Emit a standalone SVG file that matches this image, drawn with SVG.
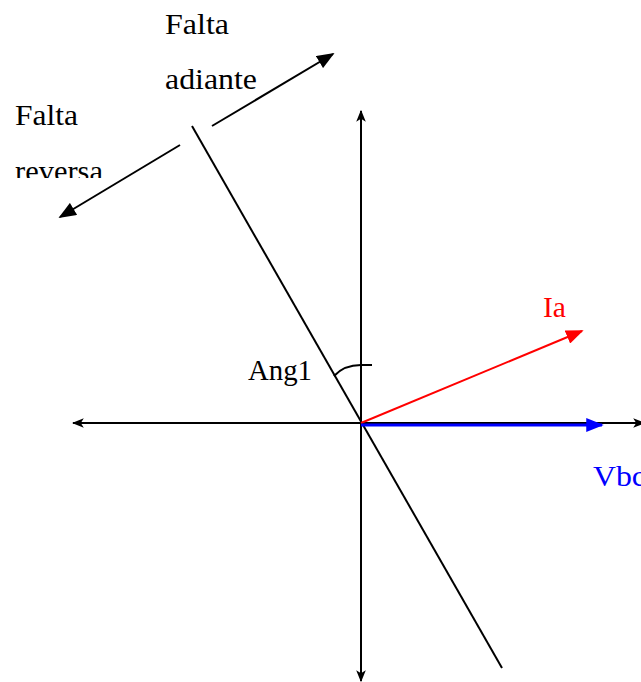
<svg xmlns="http://www.w3.org/2000/svg" width="641" height="682" viewBox="0 0 641 682">
<defs>
<style>
.t{font-family:"Liberation Serif","Times New Roman",serif;font-size:29px;}
.k{stroke:#000;stroke-width:2;fill:none}
</style>
<marker id="ak" viewBox="0 0 20 16" refX="18" refY="8" markerWidth="12" markerHeight="10" markerUnits="userSpaceOnUse" orient="auto"><path d="M0,0 L20,8 L0,16 L5,8 Z" fill="#000"/></marker>
<marker id="ab" viewBox="0 0 20 16" refX="18" refY="8" markerWidth="18" markerHeight="14" markerUnits="userSpaceOnUse" orient="auto"><path d="M0,0 L20,8 L0,16 Z" fill="#000"/></marker>
<marker id="ar" viewBox="0 0 20 16" refX="18" refY="8" markerWidth="18" markerHeight="14" markerUnits="userSpaceOnUse" orient="auto"><path d="M0,0 L20,8 L0,16 Z" fill="#f00"/></marker>
<marker id="au" viewBox="0 0 20 16" refX="18" refY="8" markerWidth="18" markerHeight="14" markerUnits="userSpaceOnUse" orient="auto"><path d="M0,0 L20,8 L0,16 Z" fill="#00f"/></marker>
<clipPath id="clipRev"><rect x="0" y="140" width="200" height="38"/></clipPath>
</defs>
<g id="connectors">
<line class="k" x1="361" y1="420" x2="361" y2="111" marker-end="url(#ak)"/>
<line class="k" x1="361" y1="420" x2="361" y2="681" marker-end="url(#ak)"/>
<line class="k" x1="361" y1="423" x2="73" y2="423" marker-end="url(#ak)"/>
<line class="k" x1="361" y1="423" x2="644" y2="423" marker-end="url(#ak)"/>
<line class="k" x1="192" y1="126" x2="502" y2="668"/>
<line class="k" x1="212" y1="126" x2="333" y2="54" marker-end="url(#ab)"/>
<line class="k" x1="180" y1="145" x2="60" y2="217" marker-end="url(#ab)"/>
<line x1="361" y1="423" x2="582" y2="331" stroke="#f00" stroke-width="2" marker-end="url(#ar)"/>
<line x1="361" y1="425" x2="602" y2="425" stroke="#00f" stroke-width="3" marker-end="url(#au)"/>
<path class="k" d="M334,376 Q344,365 361,365 L372,365"/>
</g>
<g id="label-falta-adiante" class="t" font-family="Liberation Serif, serif"><text x="165" y="34" textLength="64" lengthAdjust="spacingAndGlyphs">Falta</text><text x="165" y="89" textLength="92" lengthAdjust="spacingAndGlyphs">adiante</text></g>
<g id="label-falta-reversa" class="t" font-family="Liberation Serif, serif"><text x="15" y="125" textLength="63" lengthAdjust="spacingAndGlyphs">Falta</text><text x="15" y="181" clip-path="url(#clipRev)" textLength="88" lengthAdjust="spacingAndGlyphs">reversa</text></g>
<g id="label-ang1" class="t" font-family="Liberation Serif, serif"><text x="248" y="380" textLength="64" lengthAdjust="spacingAndGlyphs">Ang1</text></g>
<g id="label-ia" class="t" font-family="Liberation Serif, serif"><text x="543" y="317" fill="#f00" textLength="23" lengthAdjust="spacingAndGlyphs">Ia</text></g>
<g id="label-vbc" class="t" font-family="Liberation Serif, serif"><text x="593" y="486" fill="#00f" textLength="53" lengthAdjust="spacingAndGlyphs">Vbc</text></g>
</svg>
